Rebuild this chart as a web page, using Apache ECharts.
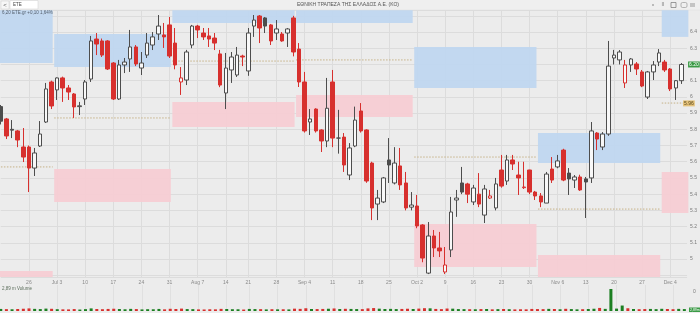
<!DOCTYPE html>
<html><head><meta charset="utf-8">
<script src="https://cdn.jsdelivr.net/npm/echarts@6/dist/echarts.min.js"></script>
<style>html,body{margin:0;padding:0;background:#ececec}#c{width:700px;height:313px}</style>
</head><body><div id="c"></div><script>
const categories = [
'06-19','06-20','06-21','06-22','06-23','06-26','06-27','06-28','06-29','06-30',
'07-03','07-04','07-05','07-06','07-07','07-10','07-11','07-12','07-13','07-14','07-17','07-18','07-19','07-20','07-21','07-24','07-25','07-26','07-27','07-28','07-31',
'08-01','08-02','08-03','08-04','08-07','08-08','08-09','08-10','08-11','08-14','08-16','08-17','08-18','08-21','08-22','08-23','08-24','08-25','08-28','08-29','08-30','08-31',
'09-01','09-04','09-05','09-06','09-07','09-08','09-11','09-12','09-13','09-14','09-15','09-18','09-19','09-20','09-21','09-22','09-25','09-26','09-27','09-28','09-29',
'10-02','10-03','10-04','10-05','10-06','10-09','10-10','10-11','10-12','10-13','10-16','10-17','10-18','10-19','10-20','10-23','10-24','10-25','10-26','10-27','10-30','10-31',
'11-01','11-02','11-03','11-06','11-07','11-08','11-09','11-10','11-13','11-14','11-15','11-16','11-17','11-20','11-21','11-22','11-23','11-24','11-27','11-28','11-29','11-30',
'12-01','12-04','12-05','12-06','12-07'];

// [open, close, low, high]
const ohlc = [
[5.94,5.85,5.83,5.95],[5.864,5.759,5.74,5.87],[5.80,5.795,5.746,5.857],[5.79,5.734,5.69,5.796],[5.691,5.629,5.598,5.808],
[5.691,5.561,5.413,5.70],[5.561,5.654,5.512,5.685],[5.697,5.771,5.691,5.851],[5.845,6.049,5.839,6.086],[6.092,5.944,5.925,6.10],
[6.043,6.117,5.981,6.12],[6.117,6.055,5.969,6.125],[6.055,6.03,5.981,6.073],[6.018,5.938,5.87,6.024],[5.94,5.945,5.888,5.969],
[5.987,6.092,5.95,6.104],[6.11,6.345,6.092,6.376],[6.357,6.326,6.258,6.394],[6.345,6.258,6.246,6.36],[6.345,6.172,6.166,6.35],
[6.209,5.987,5.981,6.215],[5.987,6.197,5.981,6.228],[6.197,6.215,6.147,6.24],[6.234,6.308,6.154,6.413],[6.308,6.203,6.19,6.32],
[6.178,6.209,6.135,6.277],[6.258,6.332,6.24,6.394],[6.32,6.37,6.289,6.40],[6.388,6.437,6.351,6.505],[6.382,6.37,6.302,6.456],
[6.444,6.252,6.24,6.493],[6.332,6.197,6.17,6.425],[6.092,6.117,6.012,6.184],[6.104,6.277,6.073,6.29],[6.32,6.437,6.30,6.444],
[6.437,6.413,6.363,6.444],[6.394,6.37,6.351,6.425],[6.376,6.357,6.308,6.425],[6.363,6.332,6.289,6.394],[6.265,6.073,6.06,6.29],
[6.024,6.178,5.925,6.271],[6.166,6.246,6.086,6.277],[6.135,6.258,6.123,6.308],[6.252,6.246,6.19,6.26],[6.16,6.394,6.13,6.425],
[6.437,6.474,6.37,6.505],[6.499,6.425,6.332,6.505],[6.487,6.437,6.394,6.493],[6.444,6.345,6.32,6.45],[6.394,6.419,6.351,6.474],
[6.388,6.345,6.34,6.40],[6.394,6.419,6.308,6.425],[6.487,6.277,6.25,6.50],[6.295,6.092,6.061,6.332],[6.092,5.79,5.78,6.154],
[5.845,5.864,5.765,5.925],[5.925,5.79,5.78,5.93],[5.796,5.728,5.66,5.80],[5.728,5.93,5.69,6.117],[6.092,5.746,5.69,6.166],
[5.746,5.746,5.65,5.92],[5.752,5.58,5.537,5.777],[5.518,5.685,5.487,5.715],[5.697,5.857,5.69,5.94],[5.913,5.79,5.78,5.962],
[5.796,5.481,5.47,5.80],[5.592,5.315,5.24,5.60],[5.339,5.376,5.24,5.426],[5.352,5.50,5.345,5.506],[5.611,5.58,5.469,5.746],
[5.469,5.592,5.46,5.69],[5.574,5.457,5.426,5.685],[5.469,5.315,5.30,5.537],[5.32,5.333,5.30,5.413],[5.327,5.204,5.19,5.395],
[5.21,5.006,4.98,5.215],[4.913,5.142,4.907,5.228],[5.142,5.068,5.012,5.179],[5.068,5.05,5.012,5.167],[4.92,4.963,4.907,5.074],
[5.056,5.29,5.012,5.383],[5.364,5.376,5.26,5.426],[5.469,5.413,5.40,5.568],[5.463,5.40,5.345,5.47],[5.352,5.438,5.333,5.457],
[5.40,5.339,5.32,5.53],[5.271,5.432,5.222,5.457],[5.376,5.389,5.37,5.426],[5.315,5.463,5.30,5.50],[5.549,5.45,5.44,5.642],
[5.481,5.611,5.457,5.642],[5.611,5.586,5.549,5.642],[5.518,5.50,5.395,5.60],[5.44,5.444,5.432,5.60],[5.549,5.413,5.40,5.55],
[5.413,5.389,5.364,5.42],[5.389,5.352,5.32,5.407],[5.345,5.524,5.345,5.537],[5.555,5.487,5.469,5.629],[5.568,5.605,5.56,5.642],
[5.672,5.487,5.48,5.68],[5.53,5.494,5.395,5.561],[5.487,5.506,5.438,5.518],[5.506,5.426,5.42,5.52],[5.494,5.475,5.253,5.506],
[5.50,5.79,5.469,5.845],[5.777,5.74,5.672,5.783],[5.691,5.771,5.672,5.783],[5.771,6.19,5.76,6.345],[6.24,6.258,6.20,6.29],
[6.228,6.277,6.20,6.289],[6.086,6.197,6.055,6.228],[6.197,6.234,6.154,6.24],[6.203,6.172,6.135,6.215],[6.154,6.067,6.06,6.166],
[5.999,6.154,5.987,6.16],[6.154,6.197,6.104,6.221],[6.215,6.271,6.19,6.295],[6.215,6.166,6.154,6.228],[6.172,6.049,6.036,6.178],
[6.055,6.10,5.981,6.104],[6.10,6.20,6.08,6.209],null];

// volume, millions
const volumes = [
3.1,2.8,2.6,3.0,3.4,3.9,3.2,2.9,3.6,3.3,
2.7,2.5,2.4,2.9,2.2,2.8,3.9,3.0,2.7,3.1,
3.4,3.0,2.6,3.2,2.9,2.4,2.7,2.6,3.1,2.5,
3.3,3.0,3.6,2.9,2.8,2.4,2.3,2.6,2.5,3.2,
3.0,2.7,2.6,2.2,3.1,2.9,2.8,2.4,2.7,2.5,
2.6,2.4,3.5,3.2,4.1,3.0,2.9,3.1,3.4,3.8,
3.0,3.3,3.1,2.9,2.8,3.9,4.4,3.5,3.0,3.2,
2.9,3.1,3.4,3.0,3.6,4.2,4.0,3.1,2.8,3.7,
3.5,2.9,2.8,2.7,2.6,2.9,3.0,2.5,2.8,3.0,
2.7,2.4,2.6,2.5,3.1,2.9,2.8,3.2,3.0,2.6,
3.3,2.9,2.5,2.7,3.0,3.4,4.6,3.2,33.0,3.6,
8.2,4.1,3.0,2.7,2.9,3.1,2.8,3.3,3.0,2.7,
3.2,2.89,null];

const tickLabels = {'06-26':'26','07-03':'Jul 3','07-10':'10','07-17':'17','07-24':'24','07-31':'31',
'08-07':'Aug 7','08-14':'14','08-21':'21','08-28':'28','09-04':'Sep 4','09-11':'11','09-18':'18','09-25':'25',
'10-02':'Oct 2','10-09':'9','10-16':'16','10-23':'23','10-30':'30','11-06':'Nov 6','11-13':'13','11-20':'20',
'11-27':'27','12-04':'Dec 4'};

const monthSpans = [['06-19','06-30'],['07-03','07-31'],['08-01','08-31'],['09-01','09-29'],['10-02','10-31'],['11-01','11-30'],['12-01','12-07']];
const supplyZones = [[6.209,6.6],[6.184,6.388],[6.456,6.6],[6.456,6.6],[6.055,6.308],[5.592,5.777],[6.370,6.6]];
const demandZones = [[4.80,4.926],[5.352,5.555],[5.814,5.969],[5.876,6.012],[4.951,5.216],[4.80,5.025],[5.284,5.537]];
const monthLevels = [5.568,5.870,6.221,6.228,5.629,5.308,5.962];
const lastClose = 6.20;
const levelLabel = 5.96;

const RED='#d7302e', DARK='#4d4d4d', HOLLOW='#f8f8f8', VGREEN='#1c7f22';
const BLUE='rgba(190,214,240,0.92)', PINK='rgba(246,204,210,0.92)', LEVEL='#c6b287';
const CLEAR='rgba(0,0,0,0)';

const candleData = ohlc.map((d,i)=>{
  if(!d) return '-';
  const o=d[0], c=d[1];
  const prev = i>0 && ohlc[i-1] ? ohlc[i-1][1] : null;
  const col = (prev!==null && c<prev) ? RED : DARK;
  const fill = c>o ? HOLLOW : col;
  return {value:d, itemStyle:{color:fill,color0:fill,borderColor:col,borderColor0:col}};
});
const volData = volumes.map((v,i)=>{
  if(v==null) return '-';
  const c=ohlc[i][1];
  const prev = i>0 ? ohlc[i-1][1] : null;
  return {value:v, itemStyle:{color:(prev!==null && c<prev)?RED:VGREEN}};
});
const zoneData = monthSpans.map((m,k)=>[categories.indexOf(m[0]),categories.indexOf(m[1]),
  supplyZones[k][0],supplyZones[k][1],demandZones[k][0],demandZones[k][1],monthLevels[k]]);

function renderZone(params, api){
  const s=api.value(0), e=api.value(1);
  const band=api.size([1,0])[0];
  const cs=params.coordSys;
  const clipR={x:cs.x-4,y:cs.y,width:cs.width+8,height:cs.height};
  const x0=api.coord([s,0])[0]-band/2, x1=api.coord([e,0])[0]+band/2-1.5;
  const mk=(lo,hi,fill)=>{
    const yTop=api.coord([s,hi])[1], yBot=api.coord([s,lo])[1];
    const r=echarts.graphic.clipRectByRect({x:x0,y:yTop,width:x1-x0,height:yBot-yTop},clipR);
    return r?{type:'rect',shape:r,style:{fill:fill}}:null;
  };
  const ly=api.coord([s,api.value(6)])[1];
  const children=[mk(api.value(2),api.value(3),BLUE),mk(api.value(4),api.value(5),PINK),
    {type:'line',shape:{x1:x0,y1:ly,x2:x1,y2:ly},style:{stroke:LEVEL,lineWidth:1,lineDash:[1.5,1.5]}}].filter(Boolean);
  return {type:'group',children:children};
}

const showTick=(idx,val)=>tickLabels[val]!==undefined;
const chart=echarts.init(document.getElementById('c'),null,{renderer:'canvas'});
const FONT='Liberation Sans, Arial, sans-serif';
chart.setOption({
  animation:false,
  backgroundColor:'#ececec',
  textStyle:{fontFamily:FONT},
  grid:[{left:0.75,right:10,top:10,height:267},{left:0.75,right:10,top:285,height:26}],
  xAxis:[
    {type:'category',data:categories,boundaryGap:false,gridIndex:0,
     axisLine:{show:false},axisTick:{show:false},
     axisLabel:{interval:showTick,formatter:v=>tickLabels[v]||'',fontSize:5,color:'#8a8a8a',margin:3},
     splitLine:{show:true,interval:showTick,lineStyle:{color:'#dcdcdc',width:1}}},
    {type:'category',data:categories,boundaryGap:false,gridIndex:1,
     axisLine:{show:false},axisTick:{show:false},axisLabel:{show:false},
     splitLine:{show:true,interval:showTick,lineStyle:{color:'#e0e0e0',width:1}}}
  ],
  yAxis:[
    {type:'value',gridIndex:0,position:'right',min:4.889,max:6.536,minInterval:0.1,maxInterval:0.1,
     axisLine:{show:false},axisTick:{show:false},
     axisLabel:{fontSize:5,color:'#7a7a7a',margin:3,showMinLabel:false,showMaxLabel:false,
       formatter:v=>(v<4.95||v>6.45)?'':v.toFixed(1).replace(/\.0$/,'')},
     splitLine:{lineStyle:{color:'#dcdcdc',width:1}}},
    {type:'value',gridIndex:1,position:'right',min:0,max:39,show:false,splitLine:{show:false}}
  ],
  series:[
    {type:'custom',name:'zones',xAxisIndex:0,yAxisIndex:0,renderItem:renderZone,data:zoneData,
     encode:{x:[0,1],y:[2,3,4,5,6]},clip:false,silent:true,z:1},
    {type:'candlestick',name:'ETE',xAxisIndex:0,yAxisIndex:0,data:candleData,barWidth:4,clip:false,z:3,
     itemStyle:{borderWidth:1},
     markLine:{symbol:'none',silent:true,animation:false,
       data:[
        {yAxis:lastClose,lineStyle:{color:CLEAR,width:0},label:{show:true,position:'end',distance:1,formatter:lastClose.toFixed(2),
          fontSize:5,color:'#ffffff',backgroundColor:'#3a9a45',padding:[1,1,0,1],opacity:1}},
        {yAxis:levelLabel,lineStyle:{color:CLEAR,width:0},label:{show:true,position:'end',distance:-4,formatter:levelLabel.toFixed(2),
          fontSize:5,color:'#5a4a20',backgroundColor:'#e5c27a',padding:[1,1,0,1],opacity:1}}
       ]}},
    {type:'bar',name:'Volume',xAxisIndex:1,yAxisIndex:1,data:volData,barWidth:3}
  ],
  graphic:[
    {type:'rect',shape:{x:0,y:0,width:700,height:10},style:{fill:'#efefef'},z:10},
    {type:'line',shape:{x1:0,y1:10,x2:700,y2:10},style:{stroke:'#dddddd',lineWidth:0.5},z:10},
    {type:'rect',shape:{x:1,y:1,width:8,height:8},style:{fill:'#f7f7f7',stroke:'#cfcfcf',lineWidth:0.5},z:11},
    {type:'text',x:5,y:5,style:{text:'<',fontSize:6,fill:'#555',align:'center',verticalAlign:'middle',fontFamily:FONT},z:12},
    {type:'rect',shape:{x:10,y:0.5,width:28,height:8.5},style:{fill:'#ffffff',stroke:'#cfcfcf',lineWidth:0.5},z:11},
    {type:'text',x:13,y:5,style:{text:'ETE',fontSize:4.5,fill:'#444',verticalAlign:'middle',fontFamily:FONT},z:12},
    {type:'text',x:348,y:5,style:{text:'ΕΘΝΙΚΗ ΤΡΑΠΕΖΑ ΤΗΣ ΕΛΛΑΔΟΣ Α.Ε. (ΚΟ)',fontSize:5,fill:'#555',align:'center',verticalAlign:'middle',fontFamily:FONT},z:12},
    {type:'circle',shape:{cx:653,cy:5,r:0.8},style:{fill:'#777'},z:12},
    {type:'text',x:663,y:5,style:{text:'II',fontSize:5,fill:'#777',align:'center',verticalAlign:'middle',fontFamily:FONT},z:12},
    {type:'rect',shape:{x:671,y:2.5,width:5,height:5},style:{fill:'none',stroke:'#777',lineWidth:0.7},z:12},
    {type:'rect',shape:{x:681,y:2.5,width:6,height:5,r:1.5},style:{fill:'none',stroke:'#999',lineWidth:0.7},z:12},
    {type:'line',shape:{x1:690,y1:4,x2:695,y2:4},style:{stroke:'#777',lineWidth:0.7},z:12},
    {type:'line',shape:{x1:690,y1:6,x2:695,y2:6},style:{stroke:'#777',lineWidth:0.7},z:12},
    {type:'text',x:2,y:12.5,style:{text:'6,20 ETE.gr +0,10 1,64%',fontSize:4.5,fill:'#55606e',verticalAlign:'middle',fontFamily:FONT},z:12},
    {type:'text',x:2,y:288.5,style:{text:'2,89 m Volume',fontSize:4.5,fill:'#5c6e5c',verticalAlign:'middle',fontFamily:FONT},z:12},
    {type:'text',x:693,y:292,style:{text:'0',fontSize:5,fill:'#7a7a7a',verticalAlign:'middle',fontFamily:FONT},z:12},
    {type:'rect',shape:{x:689,y:307.5,width:11,height:4.5},style:{fill:'#3a9a45'},z:12},
    {type:'text',x:690,y:309.8,style:{text:'2,89m',fontSize:3.5,fill:'#fff',verticalAlign:'middle',fontFamily:FONT},z:13}
  ]
});
</script></body></html>
